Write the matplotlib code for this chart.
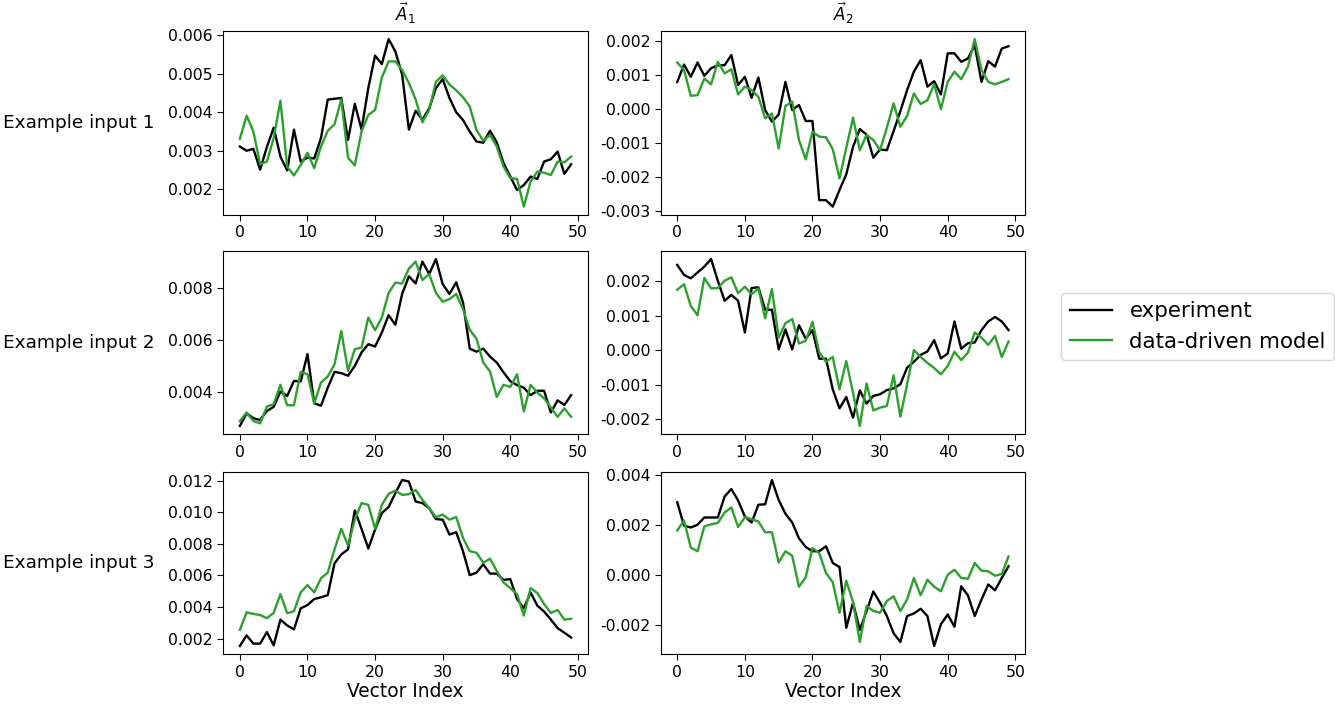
import numpy as np
import matplotlib
matplotlib.use("Agg")
import matplotlib.pyplot as plt
from matplotlib.ticker import MultipleLocator, FormatStrFormatter

# ---------------- data ----------------
row_labels = ["Example input 1", "Example input 2", "Example input 3"]
col_titles = [r"$\vec{A}_1$", r"$\vec{A}_2$"]
series_names = ["experiment", "data-driven model"]

# Example input 1, A1
ex1_a1_exp = [0.00311, 0.0030, 0.00305, 0.00251, 0.0031, 0.0036, 0.00285, 0.00249, 0.00355, 0.00272,
              0.00282, 0.0028, 0.00333, 0.00433, 0.00435, 0.00437, 0.00328, 0.00422, 0.00355, 0.00463,
              0.00547, 0.00525, 0.0059, 0.00558, 0.00498, 0.00355, 0.00404, 0.0038, 0.0041, 0.00463,
              0.00486, 0.00437, 0.004, 0.0038, 0.0035, 0.00324, 0.00321, 0.00352, 0.00322, 0.00268,
              0.00233, 0.00198, 0.00211, 0.00233, 0.00227, 0.00272, 0.00278, 0.00298, 0.0024, 0.00265]
ex1_a1_mod = [0.00331, 0.00391, 0.0035, 0.00265, 0.00272, 0.00333, 0.0043, 0.00259, 0.00236, 0.00263,
              0.00295, 0.00255, 0.00311, 0.00352, 0.00369, 0.00433, 0.00282, 0.00262, 0.0035, 0.00393,
              0.00406, 0.0049, 0.00532, 0.00532, 0.0051, 0.00476, 0.00433, 0.00374, 0.00406, 0.00479,
              0.00496, 0.00472, 0.00457, 0.00439, 0.00415, 0.00354, 0.00326, 0.00341, 0.00311, 0.00259,
              0.00229, 0.00227, 0.00155, 0.0022, 0.00246, 0.00243, 0.00237, 0.00272, 0.0027, 0.00285]

# Example input 1, A2
ex1_a2_exp = [0.0008, 0.00131, 0.00095, 0.00137, 0.00098, 0.0012, 0.00129, 0.00129, 0.00159, 0.00071,
              0.00095, 0.00033, 0.00093, -0.00003, -0.00037, -0.00016, 0.0008, -0.00003, 0.00012, -0.00035,
              -0.00035, -0.00268, -0.00268, -0.00287, -0.00238, -0.00192, -0.00111, -0.00059, -0.00075, -0.00143,
              -0.00119, -0.00121, -0.00065, -0.00006, 0.00056, 0.0011, 0.00144, 0.00066, 0.00082, 0.00043,
              0.00164, 0.00164, 0.00139, 0.00149, 0.00188, 0.0008, 0.00141, 0.00125, 0.00178, 0.00185]
ex1_a2_mod = [0.00137, 0.00115, 0.00039, 0.00041, 0.0009, 0.00073, 0.00139, 0.00105, 0.00117, 0.00043,
              0.00066, 0.00056, 0.00036, -0.00027, -0.00013, -0.00116, 0.00009, 0.00022, -0.00091, -0.00148,
              -0.00067, -0.00081, -0.00083, -0.00118, -0.00204, -0.00114, -0.00025, -0.00121, -0.00076, -0.00091,
              -0.00121, -0.00055, 0.00017, -0.00052, -0.0002, 0.00046, 0.00015, 0.00026, 0.00073, 0.0,
              0.0008, 0.0011, 0.00088, 0.00125, 0.00206, 0.00115, 0.0008, 0.00073, 0.0008, 0.00088]

# Example input 2, A1
ex2_a1_exp = [0.00267, 0.00316, 0.00297, 0.0029, 0.00325, 0.00341, 0.004, 0.00383, 0.00441, 0.00439,
              0.00545, 0.00355, 0.00345, 0.00415, 0.00476, 0.00471, 0.00461, 0.00499, 0.00551, 0.00583,
              0.00574, 0.00628, 0.00695, 0.00658, 0.00777, 0.00845, 0.00818, 0.00902, 0.00854, 0.00912,
              0.00815, 0.00777, 0.00822, 0.00745, 0.00566, 0.00554, 0.00566, 0.00535, 0.00512, 0.00474,
              0.0044, 0.00425, 0.00415, 0.00386, 0.00403, 0.00403, 0.00319, 0.00366, 0.00348, 0.00386]
ex2_a1_mod = [0.00286, 0.00319, 0.00286, 0.00277, 0.00342, 0.00351, 0.00426, 0.00347, 0.00347, 0.00476,
              0.00467, 0.00354, 0.00435, 0.00458, 0.00505, 0.00634, 0.0048, 0.00564, 0.0057, 0.00686,
              0.00637, 0.00686, 0.00781, 0.00821, 0.00817, 0.00875, 0.00902, 0.00831, 0.00854, 0.00781,
              0.00747, 0.00757, 0.00777, 0.00719, 0.00639, 0.00604, 0.00512, 0.00478, 0.00379, 0.00426,
              0.00418, 0.00467, 0.00323, 0.00426, 0.00396, 0.00374, 0.00338, 0.00302, 0.00335, 0.00302]

# Example input 2, A2
ex2_a2_exp = [0.00248, 0.00219, 0.00209, 0.00226, 0.00243, 0.00265, 0.00202, 0.00144, 0.00161, 0.00144,
              0.00052, 0.00181, 0.00183, 0.00118, 0.00118, 0.00003, 0.00061, 0.00003, 0.00073, 0.00034,
              0.00059, -0.00024, -0.00024, -0.00113, -0.00168, -0.00135, -0.00195, -0.00116, -0.00154, -0.00132,
              -0.00127, -0.00115, -0.0011, -0.00098, -0.0005, -0.00033, -0.00013, -0.00003, 0.0003, -0.00023,
              -0.00009, 0.00084, 0.00005, 0.00021, 0.00023, 0.00059, 0.00084, 0.00097, 0.00084, 0.00059]
ex2_a2_mod = [0.00176, 0.00192, 0.00129, 0.00102, 0.0021, 0.0018, 0.00181, 0.00202, 0.00212, 0.00166,
              0.00185, 0.00163, 0.0018, 0.00093, 0.00178, 0.00037, 0.00079, 0.00091, 0.0002, 0.00028,
              0.00083, -0.00006, -0.00033, -0.00019, -0.00113, -0.00031, -0.00123, -0.00219, -0.00096, -0.00174,
              -0.00166, -0.00161, -0.00072, -0.00192, -0.00098, 0.00001, -0.00019, -0.00036, -0.00051, -0.00069,
              -0.00045, -0.00004, -0.00028, -0.00006, 0.00052, 0.00037, 0.00016, 0.00042, -0.00019, 0.00026]

# Example input 3, A1
ex3_a1_exp = [0.00154, 0.00221, 0.00169, 0.00169, 0.00242, 0.00158, 0.00321, 0.00284, 0.00259, 0.00392,
              0.00413, 0.00451, 0.00462, 0.00476, 0.00677, 0.00733, 0.00765, 0.01012, 0.00895, 0.00771,
              0.0089, 0.00995, 0.01033, 0.01121, 0.01204, 0.01194, 0.01068, 0.01058, 0.01026, 0.00957,
              0.00953, 0.00859, 0.00874, 0.00754, 0.00602, 0.00618, 0.00671, 0.00612, 0.00612, 0.00572,
              0.00577, 0.00451, 0.00392, 0.00493, 0.00409, 0.00372, 0.00321, 0.00267, 0.00238, 0.00208]
ex3_a1_mod = [0.00256, 0.00367, 0.00357, 0.0035, 0.0033, 0.00363, 0.00482, 0.00361, 0.00374, 0.00493,
              0.00539, 0.00493, 0.00583, 0.00618, 0.00765, 0.00895, 0.0079, 0.00953, 0.01058, 0.01047,
              0.00895, 0.01047, 0.01116, 0.01137, 0.0111, 0.01114, 0.01141, 0.01079, 0.01026, 0.00968,
              0.00985, 0.00953, 0.0097, 0.00838, 0.00754, 0.00744, 0.00681, 0.00706, 0.00629, 0.00556,
              0.0052, 0.00482, 0.00346, 0.0052, 0.00489, 0.0042, 0.00363, 0.00382, 0.00321, 0.00326]

# Example input 3, A2
ex3_a2_exp = [0.00291, 0.00197, 0.0019, 0.00201, 0.0023, 0.0023, 0.0023, 0.00314, 0.00344, 0.00298,
              0.00234, 0.0021, 0.00281, 0.00283, 0.0038, 0.003, 0.00245, 0.0021, 0.00147, 0.00112,
              0.00095, 0.00095, 0.00115, 0.00048, 0.00032, -0.00211, -0.00111, -0.0022, -0.00144, -0.00066,
              -0.00111, -0.00164, -0.00233, -0.00268, -0.00164, -0.00154, -0.00135, -0.00164, -0.00284, -0.00197,
              -0.00158, -0.00207, -0.00045, -0.00082, -0.00164, -0.00098, -0.00038, -0.00061, -0.00012, 0.00035]
ex3_a2_mod = [0.00178, 0.00218, 0.0011, 0.00095, 0.00194, 0.00203, 0.00208, 0.0025, 0.0027, 0.00192,
              0.00231, 0.00223, 0.00214, 0.00171, 0.00171, 0.0005, 0.00095, 0.00077, -0.00047, -0.00009,
              0.00108, 0.00088, 0.00008, -0.00029, -0.00151, -0.00023, -0.00108, -0.00268, -0.00124, -0.00144,
              -0.00151, -0.00104, -0.00085, -0.00144, -0.00098, -0.00012, -0.00081, -0.00019, -0.00047, -0.00065,
              0.00001, 0.00021, -0.00012, -0.00015, 0.00048, 0.00017, 0.00015, -0.00003, 0.00004, 0.00074]

panels = [
    [(ex1_a1_exp, ex1_a1_mod), (ex1_a2_exp, ex1_a2_mod)],
    [(ex2_a1_exp, ex2_a1_mod), (ex2_a2_exp, ex2_a2_mod)],
    [(ex3_a1_exp, ex3_a1_mod), (ex3_a2_exp, ex3_a2_mod)],
]
ytick_steps = [[0.001, 0.001], [0.002, 0.001], [0.002, 0.002]]

# ---------------- figure ----------------
W, H = 1335, 707
fig = plt.figure(figsize=(W / 100, H / 100), dpi=100)

col_left = [223.3, 660.7]
col_w = 364.4
row_top = [30.7, 250.7, 471.7]
row_bot = [215.0, 434.3, 654.3]

exp_color = "black"
mod_color = "#2ca02c"
lw = 1.7

handles = None
for r in range(3):
    for c in range(2):
        l = col_left[c] / W
        b = 1 - row_bot[r] / H
        h = (row_bot[r] - row_top[r]) / H
        ax = fig.add_axes([l, b, col_w / W, h])
        exp, mod = panels[r][c]
        h1, = ax.plot(np.arange(len(exp)), exp, color=exp_color, lw=lw, label=series_names[0])
        h2, = ax.plot(np.arange(len(mod)), mod, color=mod_color, lw=lw, label=series_names[1])
        handles = [h1, h2]
        ax.yaxis.set_major_locator(MultipleLocator(ytick_steps[r][c]))
        ax.yaxis.set_major_formatter(FormatStrFormatter("%.3f"))
        ax.xaxis.set_major_locator(MultipleLocator(10))
        ax.tick_params(labelsize=11.3, length=4)
        if r == 0:
            ax.set_title(col_titles[c], fontsize=12, pad=7)
        if r == 2:
            ax.set_xlabel("Vector Index", fontsize=13.4, labelpad=2)
        if c == 0:
            fig.text(3 / W, 1 - (row_top[r] + row_bot[r]) / 2 / H, row_labels[r],
                     ha="left", va="center", fontsize=13.3)

fig.legend(handles, series_names, loc="center left",
           bbox_to_anchor=(1061 / W, 1 - 326.5 / H), fontsize=15.4,
           borderaxespad=0.0, handlelength=2.0)

fig.savefig("out.png", dpi=100)
